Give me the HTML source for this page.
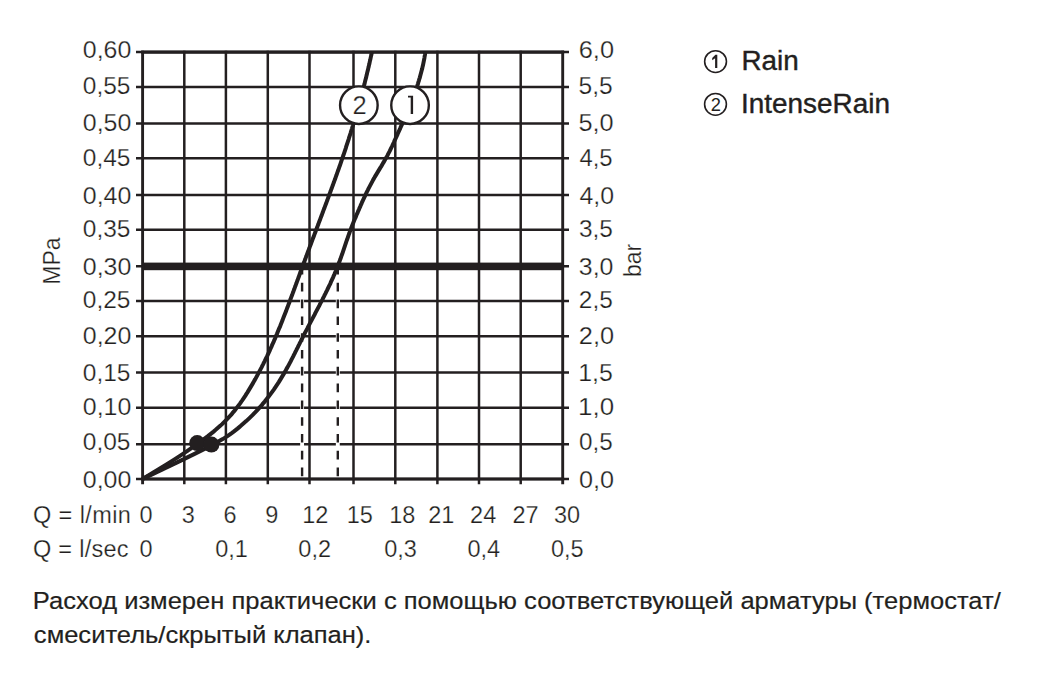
<!DOCTYPE html>
<html><head><meta charset="utf-8"><title>chart</title>
<style>
html,body{margin:0;padding:0;background:#fff;}
body{width:1059px;height:675px;overflow:hidden;}
svg{display:block;}
text{font-family:"Liberation Sans",sans-serif;fill:#231f20;}
</style></head><body>
<svg width="1059" height="675" viewBox="0 0 1059 675">
<rect width="1059" height="675" fill="#fff"/>
<g stroke="#231f20" fill="#231f20">
<line x1="136" y1="52.1" x2="569" y2="52.1" stroke-width="2.5"/>
<line x1="141.2" y1="52.1" x2="564.1" y2="52.1" stroke-width="3.1"/>
<line x1="136" y1="86.9" x2="569" y2="86.9" stroke-width="2.5"/>
<line x1="136" y1="123.6" x2="569" y2="123.6" stroke-width="2.5"/>
<line x1="136" y1="158.2" x2="569" y2="158.2" stroke-width="2.5"/>
<line x1="136" y1="195" x2="569" y2="195" stroke-width="2.5"/>
<line x1="136" y1="229.8" x2="569" y2="229.8" stroke-width="2.5"/>
<line x1="136" y1="266.3" x2="569" y2="266.3" stroke-width="2.5"/>
<line x1="136" y1="301.1" x2="569" y2="301.1" stroke-width="2.5"/>
<line x1="136" y1="336.3" x2="569" y2="336.3" stroke-width="2.5"/>
<line x1="136" y1="372.6" x2="569" y2="372.6" stroke-width="2.5"/>
<line x1="136" y1="407.7" x2="569" y2="407.7" stroke-width="2.5"/>
<line x1="136" y1="444.2" x2="569" y2="444.2" stroke-width="2.5"/>
<line x1="136" y1="479" x2="569" y2="479" stroke-width="2.5"/>
<line x1="141.2" y1="479" x2="564.1" y2="479" stroke-width="3.1"/>
<rect x="142" y="262.6" width="421" height="7.6" stroke="none"/>
<line x1="142.6" y1="50.7" x2="142.6" y2="484.3" stroke-width="2.9"/>
<line x1="184.3" y1="50.7" x2="184.3" y2="484.3" stroke-width="2.5"/>
<line x1="225.9" y1="50.7" x2="225.9" y2="484.3" stroke-width="2.5"/>
<line x1="267.8" y1="50.7" x2="267.8" y2="484.3" stroke-width="2.5"/>
<line x1="309.5" y1="50.7" x2="309.5" y2="484.3" stroke-width="2.5"/>
<line x1="353.5" y1="50.7" x2="353.5" y2="484.3" stroke-width="2.5"/>
<line x1="395.3" y1="50.7" x2="395.3" y2="484.3" stroke-width="2.5"/>
<line x1="437.4" y1="50.7" x2="437.4" y2="484.3" stroke-width="2.5"/>
<line x1="479" y1="50.7" x2="479" y2="484.3" stroke-width="2.5"/>
<line x1="520.7" y1="50.7" x2="520.7" y2="484.3" stroke-width="2.5"/>
<line x1="562.7" y1="50.7" x2="562.7" y2="484.3" stroke-width="2.9"/>
<line x1="302.1" y1="271" x2="302.1" y2="477" stroke="#fff" stroke-width="3.9"/>
<line x1="337.8" y1="271" x2="337.8" y2="477" stroke="#fff" stroke-width="3.9"/>
<line x1="302.1" y1="270" x2="302.1" y2="477" stroke-width="2.4" stroke-dasharray="8.6 8.2" stroke-dashoffset="4"/>
<line x1="337.8" y1="270" x2="337.8" y2="477" stroke-width="2.4" stroke-dasharray="8.6 8.2" stroke-dashoffset="4"/>
<path d="M371.9,52.1 L371.6,53.6 L371.3,55.1 L370.9,56.6 L370.6,58.1 L370.3,59.6 L369.9,61.1 L369.6,62.6 L369.3,64.1 L368.9,65.6 L368.6,67.1 L368.2,68.6 L367.9,70.1 L367.5,71.6 L367.1,73.1 L366.8,74.6 L366.4,76.1 L366.1,77.6 L365.7,79.1 L365.3,80.6 L364.9,82.1 L364.6,83.6 L364.2,85.1 L363.8,86.6 L363.4,88.1 L363.0,89.6 L362.6,91.1 L362.2,92.6 L361.8,94.1 L361.4,95.6 L361.0,97.1 L360.6,98.6 L360.2,100.1 L359.8,101.6 L359.4,103.1 L359.0,104.6 L358.6,106.1 L358.1,107.6 L357.7,109.1 L357.3,110.6 L356.9,112.1 L356.4,113.6 L356.0,115.1 L355.5,116.6 L355.1,118.1 L354.7,119.6 L354.2,121.1 L353.8,122.6 L353.3,124.1 L352.9,125.6 L352.4,127.1 L352.0,128.6 L351.5,130.1 L351.0,131.6 L350.6,133.1 L350.1,134.6 L349.6,136.1 L349.1,137.6 L348.7,139.1 L348.2,140.6 L347.7,142.1 L347.2,143.6 L346.7,145.1 L346.2,146.6 L345.8,148.1 L345.3,149.6 L344.8,151.1 L344.3,152.6 L343.8,154.1 L343.3,155.6 L342.7,157.1 L342.2,158.6 L341.7,160.1 L341.2,161.6 L340.7,163.1 L340.2,164.6 L339.7,166.1 L339.1,167.6 L338.6,169.1 L338.1,170.6 L337.5,172.1 L337.0,173.6 L336.5,175.1 L335.9,176.6 L335.4,178.1 L334.9,179.6 L334.3,181.1 L333.8,182.6 L333.2,184.1 L332.7,185.6 L332.1,187.1 L331.6,188.6 L331.0,190.1 L330.5,191.6 L329.9,193.1 L329.4,194.6 L328.8,196.1 L328.3,197.6 L327.7,199.1 L327.2,200.6 L326.6,202.1 L326.1,203.6 L325.5,205.1 L324.9,206.6 L324.4,208.1 L323.8,209.6 L323.2,211.1 L322.7,212.6 L322.1,214.1 L321.6,215.6 L321.0,217.1 L320.4,218.6 L319.9,220.1 L319.3,221.6 L318.7,223.1 L318.2,224.6 L317.6,226.1 L317.1,227.6 L316.5,229.1 L315.9,230.6 L315.4,232.1 L314.8,233.6 L314.2,235.1 L313.7,236.6 L313.1,238.1 L312.5,239.6 L312.0,241.1 L311.4,242.6 L310.9,244.1 L310.3,245.6 L309.7,247.1 L309.2,248.6 L308.6,250.1 L308.1,251.6 L307.5,253.1 L306.9,254.6 L306.4,256.1 L305.8,257.6 L305.3,259.1 L304.7,260.6 L304.2,262.1 L303.6,263.6 L303.0,265.1 L302.5,266.6 L301.9,268.1 L301.4,269.6 L300.8,271.1 L300.3,272.6 L299.7,274.1 L299.2,275.6 L298.7,277.1 L298.1,278.6 L297.6,280.1 L297.0,281.6 L296.5,283.1 L295.9,284.6 L295.4,286.1 L294.8,287.6 L294.3,289.1 L293.7,290.6 L293.2,292.1 L292.6,293.6 L292.1,295.1 L291.5,296.6 L290.9,298.1 L290.4,299.6 L289.8,301.1 L289.3,302.6 L288.7,304.1 L288.1,305.6 L287.6,307.1 L287.0,308.6 L286.4,310.1 L285.9,311.6 L285.3,313.1 L284.7,314.6 L284.1,316.1 L283.5,317.6 L282.9,319.1 L282.4,320.6 L281.8,322.1 L281.2,323.6 L280.6,325.1 L280.0,326.6 L279.3,328.1 L278.7,329.6 L278.1,331.1 L277.5,332.6 L276.9,334.1 L276.2,335.6 L275.6,337.1 L275.0,338.6 L274.3,340.1 L273.7,341.6 L273.0,343.1 L272.3,344.6 L271.7,346.1 L271.0,347.6 L270.3,349.1 L269.7,350.6 L269.0,352.1 L268.3,353.6 L267.6,355.1 L266.9,356.6 L266.1,358.1 L265.4,359.6 L264.7,361.1 L263.9,362.6 L263.2,364.1 L262.4,365.6 L261.7,367.1 L260.9,368.6 L260.1,370.1 L259.3,371.6 L258.5,373.1 L257.7,374.6 L256.9,376.1 L256.1,377.6 L255.3,379.1 L254.4,380.6 L253.6,382.1 L252.7,383.6 L251.8,385.1 L250.9,386.6 L250.0,388.1 L249.1,389.6 L248.2,391.1 L247.3,392.6 L246.3,394.1 L245.4,395.6 L244.4,397.1 L243.4,398.6 L242.4,400.1 L241.3,401.6 L240.3,403.1 L239.2,404.6 L238.1,406.1 L236.9,407.6 L235.8,409.1 L234.6,410.6 L233.3,412.1 L232.1,413.6 L230.8,415.1 L229.4,416.6 L228.0,418.1 L226.6,419.6 L225.1,421.1 L223.6,422.6 L222.1,424.1 L220.5,425.6 L218.8,427.1 L217.1,428.6 L215.4,430.1 L213.6,431.6 L211.7,433.1 L209.8,434.6 L207.9,436.1 L205.9,437.6 L203.9,439.1 L201.8,440.6 L199.8,442.1 L197.7,443.6 L195.6,445.1 L193.5,446.6 L191.4,448.1 L189.2,449.6 L187.1,451.1 L184.8,452.6 L182.6,454.1 L180.3,455.6 L178.0,457.1 L175.7,458.6 L173.3,460.1 L170.9,461.6 L168.5,463.1 L166.1,464.6 L163.6,466.1 L161.1,467.6 L158.7,469.1 L156.2,470.6 L153.7,472.1 L151.3,473.6 L148.8,475.1 L146.3,476.6 L143.9,478.1 L142.6,478.9" fill="none" stroke-width="4.0"/>
<path d="M425.3,52.1 L425.1,53.6 L424.9,55.1 L424.6,56.6 L424.4,58.1 L424.1,59.6 L423.8,61.1 L423.5,62.6 L423.2,64.1 L422.9,65.6 L422.5,67.1 L422.2,68.6 L421.8,70.1 L421.4,71.6 L421.0,73.1 L420.6,74.6 L420.2,76.1 L419.8,77.6 L419.3,79.1 L418.9,80.6 L418.4,82.1 L418.0,83.6 L417.5,85.1 L417.0,86.6 L416.5,88.1 L416.0,89.6 L415.4,91.1 L414.9,92.6 L414.4,94.1 L413.8,95.6 L413.2,97.1 L412.7,98.6 L412.1,100.1 L411.5,101.6 L410.9,103.1 L410.3,104.6 L409.7,106.1 L409.1,107.6 L408.5,109.1 L407.9,110.6 L407.3,112.1 L406.6,113.6 L406.0,115.1 L405.4,116.6 L404.7,118.1 L404.1,119.6 L403.4,121.1 L402.7,122.6 L402.1,124.1 L401.4,125.6 L400.7,127.1 L400.1,128.6 L399.4,130.1 L398.7,131.6 L398.0,133.1 L397.4,134.6 L396.7,136.1 L396.0,137.6 L395.3,139.1 L394.6,140.6 L394.0,142.1 L393.3,143.6 L392.6,145.1 L391.9,146.6 L391.1,148.1 L390.4,149.6 L389.7,151.1 L388.9,152.6 L388.1,154.1 L387.4,155.6 L386.6,157.1 L385.7,158.6 L384.9,160.1 L384.0,161.6 L383.1,163.1 L382.3,164.6 L381.4,166.1 L380.4,167.6 L379.5,169.1 L378.6,170.6 L377.7,172.1 L376.8,173.6 L375.9,175.1 L375.0,176.6 L374.2,178.1 L373.3,179.6 L372.5,181.1 L371.7,182.6 L370.9,184.1 L370.1,185.6 L369.3,187.1 L368.5,188.6 L367.8,190.1 L367.0,191.6 L366.3,193.1 L365.6,194.6 L364.9,196.1 L364.2,197.6 L363.5,199.1 L362.8,200.6 L362.1,202.1 L361.5,203.6 L360.8,205.1 L360.2,206.6 L359.5,208.1 L358.9,209.6 L358.2,211.1 L357.6,212.6 L356.9,214.1 L356.3,215.6 L355.7,217.1 L355.0,218.6 L354.4,220.1 L353.8,221.6 L353.2,223.1 L352.6,224.6 L352.0,226.1 L351.4,227.6 L350.8,229.1 L350.3,230.6 L349.7,232.1 L349.2,233.6 L348.6,235.1 L348.1,236.6 L347.6,238.1 L347.1,239.6 L346.5,241.1 L346.0,242.6 L345.5,244.1 L345.0,245.6 L344.5,247.1 L344.0,248.6 L343.5,250.1 L343.0,251.6 L342.5,253.1 L342.0,254.6 L341.4,256.1 L340.9,257.6 L340.4,259.1 L339.8,260.6 L339.3,262.1 L338.7,263.6 L338.1,265.1 L337.6,266.6 L337.0,268.1 L336.4,269.6 L335.8,271.1 L335.1,272.6 L334.5,274.1 L333.8,275.6 L333.2,277.1 L332.5,278.6 L331.8,280.1 L331.1,281.6 L330.5,283.1 L329.8,284.6 L329.0,286.1 L328.3,287.6 L327.6,289.1 L326.9,290.6 L326.1,292.1 L325.4,293.6 L324.6,295.1 L323.9,296.6 L323.1,298.1 L322.4,299.6 L321.6,301.1 L320.8,302.6 L320.0,304.1 L319.3,305.6 L318.5,307.1 L317.7,308.6 L316.9,310.1 L316.1,311.6 L315.3,313.1 L314.6,314.6 L313.8,316.1 L313.0,317.6 L312.2,319.1 L311.4,320.6 L310.6,322.1 L309.8,323.6 L309.0,325.1 L308.2,326.6 L307.5,328.1 L306.7,329.6 L305.9,331.1 L305.1,332.6 L304.4,334.1 L303.6,335.6 L302.8,337.1 L302.1,338.6 L301.3,340.1 L300.6,341.6 L299.8,343.1 L299.1,344.6 L298.3,346.1 L297.6,347.6 L296.8,349.1 L296.1,350.6 L295.3,352.1 L294.6,353.6 L293.8,355.1 L293.1,356.6 L292.3,358.1 L291.5,359.6 L290.8,361.1 L290.0,362.6 L289.2,364.1 L288.4,365.6 L287.6,367.1 L286.7,368.6 L285.9,370.1 L285.1,371.6 L284.2,373.1 L283.3,374.6 L282.4,376.1 L281.5,377.6 L280.6,379.1 L279.7,380.6 L278.8,382.1 L277.8,383.6 L276.8,385.1 L275.8,386.6 L274.8,388.1 L273.8,389.6 L272.7,391.1 L271.6,392.6 L270.5,394.1 L269.4,395.6 L268.3,397.1 L267.1,398.6 L265.9,400.1 L264.7,401.6 L263.4,403.1 L262.2,404.6 L260.9,406.1 L259.5,407.6 L258.2,409.1 L256.8,410.6 L255.4,412.1 L253.9,413.6 L252.5,415.1 L250.9,416.6 L249.4,418.1 L247.8,419.6 L246.2,421.1 L244.5,422.6 L242.8,424.1 L241.1,425.6 L239.3,427.1 L237.5,428.6 L235.6,430.1 L233.7,431.6 L231.7,433.1 L229.6,434.6 L227.4,436.1 L225.1,437.6 L222.7,439.1 L220.1,440.6 L217.5,442.1 L214.7,443.6 L211.9,445.1 L209.0,446.6 L206.1,448.1 L203.1,449.6 L200.1,451.1 L197.1,452.6 L194.1,454.1 L191.0,455.6 L188.0,457.1 L184.9,458.6 L181.8,460.1 L178.7,461.6 L175.6,463.1 L172.4,464.6 L169.3,466.1 L166.1,467.6 L163.0,469.1 L159.9,470.6 L156.7,472.1 L153.6,473.6 L150.5,475.1 L147.3,476.6 L144.2,478.1 L142.6,478.9" fill="none" stroke-width="4.0"/>
<circle cx="197.2" cy="443.1" r="8" stroke="none"/>
<circle cx="211.4" cy="444.6" r="8" stroke="none"/>
<circle cx="358.85" cy="105.15" r="18.8" fill="#fff" stroke-width="2.4"/>
<circle cx="410.05" cy="105.15" r="18.8" fill="#fff" stroke-width="2.4"/>
<circle cx="715.55" cy="61.6" r="10.9" fill="none" stroke-width="1.6"/>
<circle cx="715.5" cy="104.35" r="10.9" fill="none" stroke-width="1.6"/>
<path stroke="none" d="M715.1,54.8 L717.3,54.8 L717.3,67.9 L715.1,67.9 L715.1,58.3 L712.2,60.3 L712.2,58 L715.4,54.8 Z"/>
<path stroke="none" d="M410.7,95.8 L413.1,95.8 L413.1,114 L410.7,114 L410.7,97.6 L408,97.6 L408,95.8 Z"/>
</g>
<g fill="#231f20">
<text x="82.8" y="57.7" font-size="23.5" textLength="48.56" lengthAdjust="spacingAndGlyphs" stroke="#fff" stroke-width="0.25">0,60</text>
<text x="578.76" y="57.7" font-size="23.5" textLength="35.29" lengthAdjust="spacingAndGlyphs" stroke="#fff" stroke-width="0.25">6,0</text>
<text x="82.85" y="93.7" font-size="23.5" textLength="47.65" lengthAdjust="spacingAndGlyphs" stroke="#fff" stroke-width="0.25">0,55</text>
<text x="578.56" y="93.7" font-size="23.5" textLength="34.15" lengthAdjust="spacingAndGlyphs" stroke="#fff" stroke-width="0.25">5,5</text>
<text x="82.8" y="131.3" font-size="23.5" textLength="48.56" lengthAdjust="spacingAndGlyphs" stroke="#fff" stroke-width="0.25">0,50</text>
<text x="578.4" y="131.3" font-size="23.5" textLength="35.16" lengthAdjust="spacingAndGlyphs" stroke="#fff" stroke-width="0.25">5,0</text>
<text x="82.85" y="165.6" font-size="23.5" textLength="47.65" lengthAdjust="spacingAndGlyphs" stroke="#fff" stroke-width="0.25">0,45</text>
<text x="579.45" y="165.6" font-size="23.5" textLength="33.16" lengthAdjust="spacingAndGlyphs" stroke="#fff" stroke-width="0.25">4,5</text>
<text x="82.8" y="204.1" font-size="23.5" textLength="48.56" lengthAdjust="spacingAndGlyphs" stroke="#fff" stroke-width="0.25">0,40</text>
<text x="579.45" y="204.1" font-size="23.5" textLength="34.57" lengthAdjust="spacingAndGlyphs" stroke="#fff" stroke-width="0.25">4,0</text>
<text x="82.85" y="236.7" font-size="23.5" textLength="47.65" lengthAdjust="spacingAndGlyphs" stroke="#fff" stroke-width="0.25">0,35</text>
<text x="578.93" y="236.7" font-size="23.5" textLength="33.96" lengthAdjust="spacingAndGlyphs" stroke="#fff" stroke-width="0.25">3,5</text>
<text x="82.8" y="274.5" font-size="23.5" textLength="48.56" lengthAdjust="spacingAndGlyphs" stroke="#fff" stroke-width="0.25">0,30</text>
<text x="578.87" y="274.5" font-size="23.5" textLength="34.59" lengthAdjust="spacingAndGlyphs" stroke="#fff" stroke-width="0.25">3,0</text>
<text x="82.85" y="308.2" font-size="23.5" textLength="47.65" lengthAdjust="spacingAndGlyphs" stroke="#fff" stroke-width="0.25">0,25</text>
<text x="578.8" y="308.2" font-size="23.5" textLength="33.96" lengthAdjust="spacingAndGlyphs" stroke="#fff" stroke-width="0.25">2,5</text>
<text x="82.8" y="343.7" font-size="23.5" textLength="48.56" lengthAdjust="spacingAndGlyphs" stroke="#fff" stroke-width="0.25">0,20</text>
<text x="578.8" y="343.7" font-size="23.5" textLength="35.26" lengthAdjust="spacingAndGlyphs" stroke="#fff" stroke-width="0.25">2,0</text>
<text x="82.85" y="380.8" font-size="23.5" textLength="47.65" lengthAdjust="spacingAndGlyphs" stroke="#fff" stroke-width="0.25">0,15</text>
<text x="578.22" y="380.8" font-size="23.5" textLength="34.57" lengthAdjust="spacingAndGlyphs" stroke="#fff" stroke-width="0.25">1,5</text>
<text x="82.8" y="414.9" font-size="23.5" textLength="48.56" lengthAdjust="spacingAndGlyphs" stroke="#fff" stroke-width="0.25">0,10</text>
<text x="578.08" y="414.9" font-size="23.5" textLength="36.03" lengthAdjust="spacingAndGlyphs" stroke="#fff" stroke-width="0.25">1,0</text>
<text x="82.85" y="450.4" font-size="23.5" textLength="47.65" lengthAdjust="spacingAndGlyphs" stroke="#fff" stroke-width="0.25">0,05</text>
<text x="579.07" y="450.4" font-size="23.5" textLength="33.7" lengthAdjust="spacingAndGlyphs" stroke="#fff" stroke-width="0.25">0,5</text>
<text x="82.8" y="487.9" font-size="23.5" textLength="48.56" lengthAdjust="spacingAndGlyphs" stroke="#fff" stroke-width="0.25">0,00</text>
<text x="579.03" y="487.9" font-size="23.5" textLength="35.06" lengthAdjust="spacingAndGlyphs" stroke="#fff" stroke-width="0.25">0,0</text>
<text x="146.01" y="523.3" font-size="23.5" text-anchor="middle" stroke="#fff" stroke-width="0.25">0</text>
<text x="188.25" y="523.3" font-size="23.5" text-anchor="middle" stroke="#fff" stroke-width="0.25">3</text>
<text x="229.96" y="523.3" font-size="23.5" text-anchor="middle" stroke="#fff" stroke-width="0.25">6</text>
<text x="271.78" y="523.3" font-size="23.5" text-anchor="middle" stroke="#fff" stroke-width="0.25">9</text>
<text x="315.36" y="523.3" font-size="23.5" text-anchor="middle" stroke="#fff" stroke-width="0.25">12</text>
<text x="359.73" y="523.3" font-size="23.5" text-anchor="middle" stroke="#fff" stroke-width="0.25">15</text>
<text x="402.36" y="523.3" font-size="23.5" text-anchor="middle" stroke="#fff" stroke-width="0.25">18</text>
<text x="441.22" y="523.3" font-size="23.5" text-anchor="middle" stroke="#fff" stroke-width="0.25">21</text>
<text x="483.16" y="523.3" font-size="23.5" text-anchor="middle" stroke="#fff" stroke-width="0.25">24</text>
<text x="525.61" y="523.3" font-size="23.5" text-anchor="middle" stroke="#fff" stroke-width="0.25">27</text>
<text x="566.95" y="523.3" font-size="23.5" text-anchor="middle" stroke="#fff" stroke-width="0.25">30</text>
<text x="146.01" y="556.6" font-size="23.5" text-anchor="middle" stroke="#fff" stroke-width="0.25">0</text>
<text x="231.48" y="556.6" font-size="23.5" text-anchor="middle" stroke="#fff" stroke-width="0.25">0,1</text>
<text x="314.71" y="556.6" font-size="23.5" text-anchor="middle" stroke="#fff" stroke-width="0.25">0,2</text>
<text x="400.47" y="556.6" font-size="23.5" text-anchor="middle" stroke="#fff" stroke-width="0.25">0,3</text>
<text x="483.75" y="556.6" font-size="23.5" text-anchor="middle" stroke="#fff" stroke-width="0.25">0,4</text>
<text x="567.33" y="556.6" font-size="23.5" text-anchor="middle" stroke="#fff" stroke-width="0.25">0,5</text>
<text x="33" y="523.3" font-size="23.5" textLength="97.9" lengthAdjust="spacing" stroke="#fff" stroke-width="0.25">Q = l/min</text>
<text x="33" y="556.6" font-size="23.5" textLength="95.61" lengthAdjust="spacing" stroke="#fff" stroke-width="0.25">Q = l/sec</text>
<text x="741.44" y="70.1" font-size="27" textLength="57.27" lengthAdjust="spacingAndGlyphs" stroke="#231f20" stroke-width="0.4">Rain</text>
<text x="741.04" y="112.9" font-size="27" textLength="148.92" lengthAdjust="spacingAndGlyphs" stroke="#231f20" stroke-width="0.4">IntenseRain</text>
<text x="32.88" y="608.6" font-size="24.5" textLength="967.89" lengthAdjust="spacingAndGlyphs" stroke="#231f20" stroke-width="0.2">Расход измерен практически с помощью соответствующей арматуры (термостат/</text>
<text x="33.88" y="642.7" font-size="24.5" textLength="337.6" lengthAdjust="spacingAndGlyphs" stroke="#231f20" stroke-width="0.2">смеситель/скрытый клапан).</text>
<text x="359.71" y="114" font-size="25.5" text-anchor="middle" stroke="#fff" stroke-width="0.25">2</text>
<text x="715.8" y="110.7" font-size="18.3" text-anchor="middle">2</text>
<text transform="translate(59.6 261) rotate(-90)" text-anchor="middle" font-size="23" stroke="#fff" stroke-width="0.25">MPa</text>
<text transform="translate(641 260.4) rotate(-90)" text-anchor="middle" font-size="23" stroke="#fff" stroke-width="0.25">bar</text>
</g>
</svg>
</body></html>
